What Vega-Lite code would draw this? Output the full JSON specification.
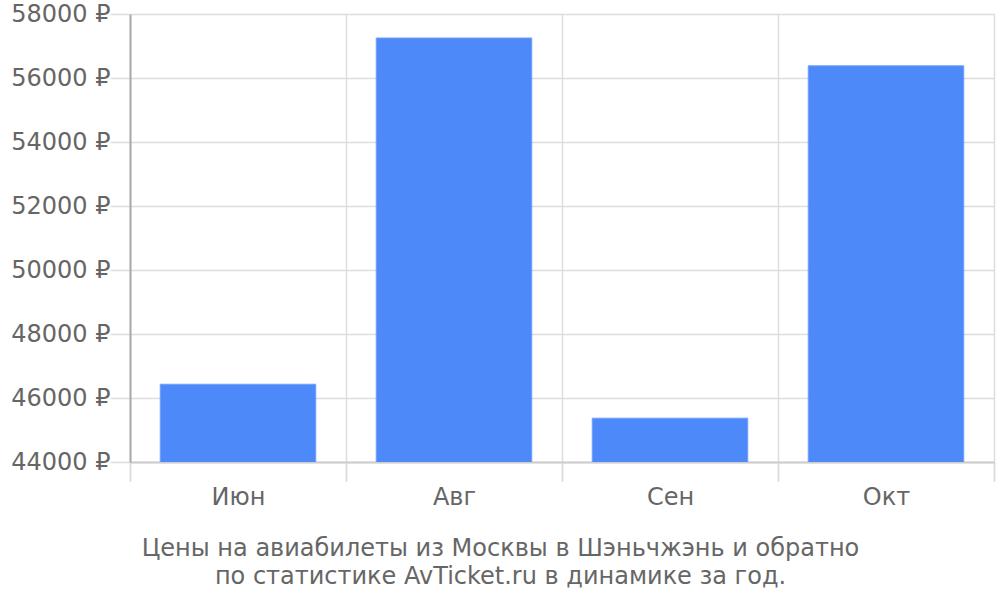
{
  "$schema": "https://vega.github.io/schema/vega-lite/v6.json",
  "width": 864,
  "height": 448,
  "autosize": {"type": "none"},
  "padding": {"left": 130, "top": 14, "right": 6, "bottom": 138},
  "background": "white",
  "config": {
    "view": {"stroke": null},
    "font": "DejaVu Sans"
  },
  "data": {
    "values": [
      {"month": "Июн", "price": 46430},
      {"month": "Авг", "price": 57250},
      {"month": "Сен", "price": 45370},
      {"month": "Окт", "price": 56380}
    ]
  },
  "mark": {"type": "bar", "color": "#4e89f9", "stroke": "#6f9ffa", "strokeWidth": 1, "clip": true, "width": {"band": 0.72}},
  "encoding": {
    "x": {
      "field": "month",
      "type": "nominal",
      "sort": null,
      "scale": {"paddingInner": 0, "paddingOuter": 0},
      "axis": {
        "labelAngle": 0,
        "labelFontSize": 24,
        "labelColor": "#666666",
        "labelPadding": 4,
        "tickBand": "extent",
        "ticks": true,
        "tickSize": 19,
        "tickColor": "#dddddd",
        "tickWidth": 2,
        "grid": true,
        "gridColor": "#dddddd",
        "gridWidth": 1.5,
        "domainColor": "#cccccc",
        "domainWidth": 2,
        "title": ["Цены на авиабилеты из Москвы в Шэньчжэнь и обратно", "по статистике AvTicket.ru в динамике за год."],
        "titleFontSize": 24,
        "titleFontWeight": "normal",
        "titleColor": "#666666",
        "titleLineHeight": 28,
        "titleX": 370,
        "titleY": 74,
        "titleBaseline": "top",
        "titleAnchor": null,
        "titleAlign": "center"
      }
    },
    "y": {
      "field": "price",
      "type": "quantitative",
      "scale": {"domain": [44000, 58000], "nice": false, "zero": false},
      "axis": {
        "values": [44000, 46000, 48000, 50000, 52000, 54000, 56000, 58000],
        "labelExpr": "datum.value + ' ₽'",
        "labelFontSize": 24,
        "labelColor": "#666666",
        "labelPadding": 0,
        "tickSize": 20,
        "tickColor": "#dddddd",
        "tickWidth": 1.5,
        "gridColor": "#dddddd",
        "gridWidth": 1.5,
        "domainColor": "#aaaaaa",
        "domainWidth": 2,
        "title": null
      }
    }
  }
}
